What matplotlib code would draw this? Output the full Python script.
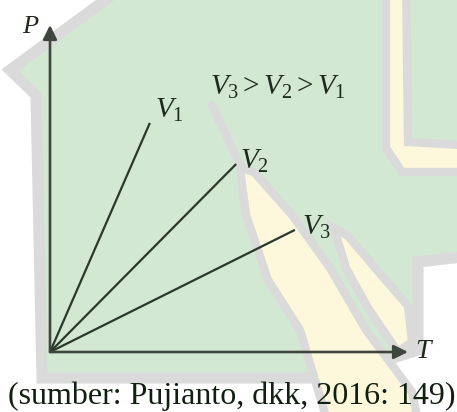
import matplotlib
matplotlib.use("Agg")
import matplotlib.pyplot as plt
from matplotlib.patches import Polygon

plt.rcParams['mathtext.fontset'] = 'custom'
plt.rcParams['mathtext.rm'] = 'Liberation Serif'
plt.rcParams['mathtext.it'] = 'Liberation Serif:italic'
plt.rcParams['font.family'] = ['Liberation Serif', 'DejaVu Serif']

# ---- data -------------------------------------------------------------
isochore_labels = [r'$V_1$', r'$V_2$', r'$V_3$']
T_end = [2.79, 5.20, 6.84]     # temperature at end of each isochore line
P_end = [6.40, 5.25, 3.41]     # pressure at end of each isochore line
T_max = 10.0
P_max = 9.134
relation_text = r'$V_3 > V_2 > V_1$'
caption = '(sumber: Pujianto, dkk, 2016: 149)'

W, H = 457, 412
fig = plt.figure(figsize=(W / 100, H / 100), dpi=100)
fig.patch.set_facecolor('white')

# ---- faint watermark background --------------------------------------
bg = fig.add_axes([0, 0, 1, 1], zorder=0)
bg.set_xlim(0, W)
bg.set_ylim(H, 0)
bg.axis('off')
green = '#d2e8d2'
yellow = '#fdf8dc'
grey = '#dadada'
bg.add_patch(Polygon([(146, -30), (10, 70), (36, 95), (42, 378), (330, 378),
                      (418, 350), (418, 262), (480, 255), (480, -30)],
                     closed=True, facecolor=green, edgecolor=grey, lw=8))
bg.add_patch(Polygon([(386, -30), (406, -30), (408, 142), (480, 146),
                      (480, 172), (402, 172), (386, 148)],
                     closed=True, facecolor=yellow, edgecolor=grey, lw=6))
bg.add_patch(Polygon([(240, 168), (254, 172), (292, 215), (330, 268),
                      (366, 330), (412, 392), (420, 430), (330, 430),
                      (300, 330), (268, 280), (246, 215)],
                     closed=True, facecolor=yellow, edgecolor=grey, lw=6))
bg.add_patch(Polygon([(334, 228), (348, 236), (382, 276), (408, 306),
                      (412, 342), (398, 352), (368, 308), (346, 268)],
                     closed=True, facecolor=yellow, edgecolor=grey, lw=6))
bg.plot([212, 240], [105, 165], color=grey, lw=6, solid_capstyle='round')

# ---- main diagram -----------------------------------------------------
ax = fig.add_axes([50 / W, (H - 352) / H, 358 / W, 327 / H], zorder=1)
ax.patch.set_alpha(0)
ax.set_xlim(0, T_max)
ax.set_ylim(0, P_max)
ax.axis('off')

line_col = '#2b382b'
axis_col = '#3e463e'
text_col = '#1f2a1f'

for T, P in zip(T_end, P_end):
    ax.plot([0, T], [0, P], color=line_col, lw=1.6, solid_capstyle='butt')

arrow = dict(arrowstyle='-|>,head_length=0.85,head_width=0.42', lw=1.9,
             color=axis_col, shrinkA=0, shrinkB=0, mutation_scale=10)
ax.annotate('', xy=(T_max, 0), xytext=(0, 0), arrowprops=arrow,
            annotation_clip=False)
ax.annotate('', xy=(0, P_max), xytext=(0, 0), arrowprops=arrow,
            annotation_clip=False)

label_offsets = [(3.6, 3.6), (3.0, -3.2), (5.0, -3.6)]
for lab, T, P, off in zip(isochore_labels, T_end, P_end, label_offsets):
    ax.annotate(lab, xy=(T, P), xytext=off, textcoords='offset points',
                ha='left', va='baseline', fontsize=21, color=text_col)

ax.annotate(r'$P$', xy=(0, P_max), xytext=(-20, -6), textcoords='offset points',
            ha='left', va='baseline', fontsize=19, color=text_col,
            annotation_clip=False)
ax.annotate(r'$T$', xy=(T_max, 0), xytext=(5, 0), textcoords='offset points',
            ha='left', va='center', fontsize=20, color=text_col,
            annotation_clip=False)

fig.text(210 / W, 1 - 95 / H, relation_text, ha='left', va='baseline',
         fontsize=21, color=text_col)

fig.text(0.5 * (8 + 455) / W, 1 - 396 / H, caption, ha='center', va='center',
         fontsize=23, color='#102010')

fig.savefig('out.png', dpi=100)
